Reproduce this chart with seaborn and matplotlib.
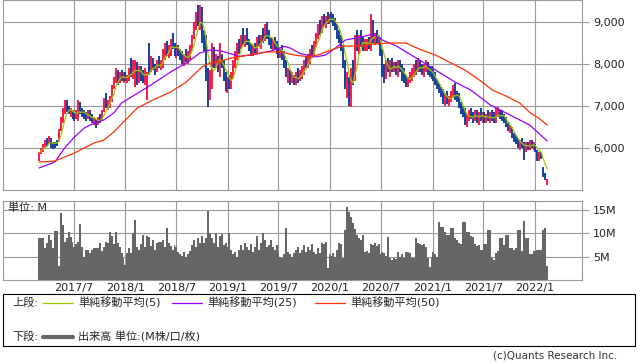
import pandas as pd
import matplotlib
matplotlib.use('Agg')
import matplotlib.pyplot as plt
import matplotlib.dates as mdates
from matplotlib.lines import Line2D
from matplotlib.patches import Rectangle
from matplotlib.ticker import FuncFormatter
import seaborn as sns

sns.set_style('white')
plt.rcParams['font.family'] = ['DejaVu Sans', 'Noto Sans CJK JP']

# weekly candles, first week and weekly values
first_week = '2017-02-27'

low = [5700, 5850, 5900, 6000, 6050, 6100, 6000, 5980, 6000, 6050,
       6150, 6400, 6600, 6800, 6850, 6800, 6750, 6700, 6650, 6700,
       6650, 6800, 6750, 6700, 6650, 6700, 6650, 6600, 6550, 6480,
       6550, 6600, 6650, 6850, 6950, 6900, 6950, 7100, 7400, 7550,
       7500, 7550, 7600, 7550, 7600, 7550, 7600, 7700, 7650, 7450,
       7500, 7550, 7600, 7550, 7500, 7150, 7750, 7800, 7850, 7750,
       7800, 7900, 7850, 7900, 8100, 8200, 8150, 8200, 8350, 8200,
       8150, 8200, 8100, 8000, 7950, 8050, 8000, 8100, 8300, 8600,
       8800, 8900, 8800, 8500, 8300, 7600, 6980, 7150, 7400, 7900,
       7900, 7800, 7700, 7900, 7600, 7350, 7300, 7400, 7400, 7650,
       7900, 8100, 8250, 8350, 8450, 8400, 8450, 8300, 8200, 8200,
       8250, 8250, 8400, 8350, 8500, 8550, 8600, 8450, 8350, 8300,
       8350, 8250, 8150, 8150, 8100, 7900, 7700, 7550, 7500, 7550,
       7500, 7500, 7550, 7600, 7650, 7750, 7900, 7900, 8000, 8150,
       8200, 8400, 8600, 8700, 8750, 8900, 8850, 8950, 8950, 9000,
       8900, 8800, 8600, 8500, 8300, 7900, 7400, 7200, 7000, 6980,
       7500, 7600, 8300, 8250, 8400, 8300, 8300, 8300, 8350, 8300,
       8500, 8450, 8500, 8450, 8200, 7700, 7550, 7650, 7800, 7700,
       7800, 7800, 7750, 7700, 7800, 7600, 7550, 7450, 7450, 7550,
       7600, 7700, 7750, 7800, 7800, 7750, 7700, 7800, 7750, 7700,
       7650, 7600, 7500, 7400, 7300, 7220, 7050, 7000, 7050, 7000,
       7100, 7200, 7150, 7100, 6950, 6800, 6750, 6550, 6500, 6650,
       6700, 6600, 6650, 6600, 6550, 6650, 6600, 6600, 6600, 6650,
       6600, 6650, 6600, 6600, 6750, 6700, 6650, 6600, 6500, 6400,
       6350, 6250, 6150, 6100, 6000, 5950, 6000, 5720, 5900, 5950,
       5950, 6000, 5950, 5900, 5700, 5700, 5750, 5300, 5250, 5120]

high = [5900, 6000, 6100, 6200, 6250, 6280, 6250, 6150, 6150, 6200,
        6450, 6750, 6950, 7150, 7150, 7000, 6950, 6900, 6850, 6900,
        7150, 7100, 6950, 6900, 6850, 6900, 6900, 6800, 6750, 6700,
        6750, 6800, 6900, 7200, 7300, 7150, 7250, 7500, 7700, 7900,
        7850, 7800, 7850, 7800, 7800, 7750, 7900, 8150, 8100, 8100,
        8050, 7950, 7950, 7850, 7900, 7800, 8500, 8200, 8150, 8000,
        8100, 8200, 8100, 8350, 8500, 8550, 8450, 8600, 8750, 8500,
        8450, 8450, 8350, 8300, 8250, 8350, 8300, 8450, 8700, 9000,
        9250, 9400, 9400, 9350, 8800, 8700, 7900, 7850, 8500, 8400,
        8250, 8200, 8500, 8250, 8100, 7800, 7700, 7750, 7800, 8100,
        8300, 8500, 8600, 8700, 8850, 8700, 8850, 8600, 8500, 8450,
        8500, 8650, 8700, 8700, 8850, 8950, 9000, 8800, 8650, 8600,
        8650, 8550, 8450, 8400, 8450, 8300, 8100, 7900, 7850, 7800,
        7750, 7800, 7900, 7850, 7950, 8100, 8200, 8250, 8350, 8450,
        8550, 8750, 8950, 9050, 9150, 9200, 9150, 9250, 9200, 9250,
        9200, 9100, 8950, 8800, 8700, 8450, 8100, 7800, 7700, 7900,
        8100, 8700, 8800, 8700, 8800, 8650, 8600, 8600, 8650, 9200,
        9050, 8750, 8800, 8700, 8650, 8350, 8000, 8100, 8150, 8100,
        8150, 8050, 8050, 8100, 8100, 8000, 7900, 7750, 7700, 7800,
        7900, 8000, 8100, 8150, 8100, 8000, 8000, 8100, 8050, 7950,
        7950, 7850, 7800, 7650, 7550, 7450, 7400, 7300, 7350, 7250,
        7350, 7500, 7550, 7350, 7300, 7100, 7000, 6950, 6800, 6900,
        6950, 6850, 6900, 6900, 6850, 6950, 6850, 6850, 6800, 6900,
        6850, 6900, 6850, 6950, 6980, 6900, 6900, 6800, 6750, 6600,
        6550, 6500, 6350, 6300, 6250, 6200, 6250, 6150, 6150, 6150,
        6200, 6200, 6150, 6100, 5950, 5900, 5900, 5550, 5400, 5260]

close = [5880, 5980, 6060, 6150, 6100, 6250, 6050, 6050, 6100, 6150,
         6420, 6700, 6900, 7050, 6900, 6850, 6900, 6750, 6800, 6850,
         7000, 6850, 6800, 6750, 6700, 6850, 6700, 6650, 6700, 6550,
         6700, 6650, 6850, 7150, 7000, 7050, 7200, 7450, 7650, 7800,
         7600, 7700, 7650, 7750, 7650, 7700, 7850, 7800, 8000, 7900,
         7650, 7900, 7700, 7600, 7850, 7700, 7950, 8100, 7900, 7850,
         8050, 7950, 8000, 8300, 8450, 8250, 8350, 8550, 8450, 8300,
         8400, 8250, 8150, 8100, 8200, 8100, 8250, 8400, 8650, 8900,
         9100, 9000, 9300, 8600, 8400, 7800, 7300, 7750, 8300, 8000,
         8150, 7900, 8250, 8000, 7700, 7500, 7600, 7500, 7750, 8050,
         8250, 8450, 8400, 8600, 8550, 8650, 8500, 8400, 8300, 8400,
         8300, 8600, 8500, 8650, 8600, 8900, 8700, 8500, 8450, 8550,
         8400, 8350, 8250, 8350, 8200, 8000, 7750, 7800, 7600, 7700,
         7550, 7750, 7650, 7800, 7900, 8050, 7950, 8200, 8300, 8250,
         8500, 8700, 8850, 8800, 9100, 8950, 9100, 9050, 9150, 9050,
         9000, 8850, 8700, 8600, 8400, 8000, 7500, 7700, 7100, 7800,
         7600, 8600, 8450, 8600, 8500, 8400, 8500, 8550, 8400, 9000,
         8600, 8700, 8550, 8600, 8300, 7800, 7700, 8000, 7850, 8050,
         7900, 7950, 7800, 8050, 7850, 7700, 7600, 7500, 7650, 7750,
         7850, 7900, 7850, 8050, 7900, 7850, 7950, 8000, 7800, 7750,
         7700, 7650, 7550, 7450, 7350, 7300, 7150, 7200, 7100, 7150,
         7300, 7400, 7250, 7200, 7050, 6850, 6800, 6600, 6750, 6850,
         6750, 6650, 6850, 6700, 6800, 6750, 6800, 6650, 6750, 6700,
         6800, 6700, 6650, 6900, 6850, 6750, 6700, 6650, 6550, 6450,
         6500, 6300, 6200, 6150, 6050, 6150, 6050, 5950, 6100, 6000,
         6150, 6050, 6100, 5950, 5750, 5850, 5800, 5350, 5300, 5200]

# u = 陽線 (red), d = 陰線 (blue)
direction = list("uuuududddd" "uuuudduddu" "udddduddud" "uduuduuuuu"
                 "dududuuduu" "dudduududd" "uduuuduudd" "uddduduuuu"
                 "ududddduud" "ududdduduu" "uudududddu"
                 "dudududddu" "dddudddudu" "duduuuduud" "uuudududud"
                 "dddddddudu" "dududduudu" "dududddudu" "dududddduu"
                 "uududduudd" "dddddddudu" "uudddddduu" "ddudududud"
                 "udduuddddd" "udddduddud" "ududdudddu")

# 出来高 (M)
volume = [9.0, 9.0, 9.0, 6.9, 8.0, 9.7, 8.6, 6.9, 10.5, 10.5,
          3.0, 14.4, 11.8, 8.2, 9.0, 10.3, 9.2, 8.2, 7.1, 7.6,
          8.2, 12.0, 7.1, 5.0, 6.5, 6.5, 5.8, 6.5, 6.9, 6.9,
          6.9, 8.0, 6.1, 7.1, 8.2, 8.0, 10.3, 9.5, 7.6, 10.3,
          8.0, 7.1, 5.8, 4.8, 3.3, 5.8, 6.9, 5.8, 10.1, 12.9,
          7.1, 6.5, 7.6, 9.7, 7.1, 9.5, 9.2, 7.3, 8.6, 6.5,
          8.0, 8.2, 8.2, 8.5, 7.0, 11.2, 8.0, 7.2, 6.5, 7.5,
          7.0, 6.0, 5.5, 5.2, 6.0, 5.0, 5.5, 6.2, 7.5, 8.5,
          7.0, 9.0, 8.0, 9.5, 8.0, 9.0, 14.8, 10.0, 9.0, 8.0,
          10.0, 7.0, 9.5, 9.8, 7.5, 8.0, 7.0, 10.1, 6.5, 5.5,
          6.0, 5.0, 6.5, 7.5, 6.5, 8.0, 7.0, 6.5, 7.8, 6.0,
          7.0, 9.5, 6.5, 8.0, 10.1, 8.5, 7.0, 7.5, 8.5, 7.0,
          6.5, 7.5, 6.0, 5.0, 4.8, 5.5, 11.2, 6.0, 5.5, 5.0,
          5.8, 6.5, 7.0, 5.8, 6.5, 7.5, 6.0, 7.0, 6.5, 7.8,
          6.0, 5.5, 6.8, 5.8, 8.0, 7.6, 8.2, 2.5, 5.5, 5.2,
          5.8, 5.0, 6.5, 8.0, 7.8, 4.6, 10.7, 15.6, 14.5, 13.5,
          12.2, 11.0, 9.7, 9.0, 8.5, 9.7, 6.0, 6.2, 5.8, 7.8,
          7.5, 8.0, 7.2, 7.6, 5.5, 6.0, 5.8, 5.2, 9.1, 4.8,
          4.3, 4.6, 4.5, 6.0, 5.0, 5.5, 4.8, 6.0, 6.0, 5.8,
          4.6, 4.8, 9.0, 8.0, 7.8, 7.4, 7.6, 7.0, 4.8, 2.8,
          4.8, 6.0, 5.5, 5.0, 12.4, 11.4, 11.4, 10.3, 9.7, 9.7,
          11.2, 11.2, 9.0, 8.6, 8.0, 7.6, 12.4, 12.4, 10.3, 10.3,
          9.5, 9.2, 7.6, 7.2, 7.4, 6.5, 6.5, 7.6, 7.6, 10.7,
          10.7, 4.6, 4.3, 5.8, 6.2, 9.0, 9.0, 7.5, 9.7, 9.7,
          6.8, 6.8, 6.5, 6.8, 10.7, 10.7, 6.2, 12.6, 9.0, 9.0,
          5.5, 5.5, 6.2, 6.2, 6.5, 6.5, 6.5, 10.7, 11.2, 2.9]

# 25 and 50 week moving averages, read at some weeks
ma25_week = [0, 8, 13, 18, 23, 28, 33, 38, 42, 57, 67, 75, 82, 87, 93, 102,
             110, 118, 125, 128, 133, 141, 146, 151, 156, 164, 170, 175,
             182, 187, 193, 202, 212, 220, 230, 240, 250, 259]
ma25_val = [5524, 5667, 6000, 6262, 6476, 6595, 6667, 6833, 7071, 7500,
            7810, 8024, 8262, 8333, 8310, 8180, 8230, 8310, 8420, 8380,
            8250, 8167, 8214, 8380, 8570, 8640, 8710, 8570, 8430, 8290,
            8120, 7857, 7570, 7380, 7024, 6786, 6548, 6167]
ma50_week = [0, 8, 13, 18, 23, 28, 33, 38, 43, 50, 58, 67, 75, 83, 87, 92,
             98, 107, 116, 123, 130, 137, 142, 148, 155, 164, 170, 179,
             187, 194, 202, 212, 217, 225, 231, 239, 245, 250, 255, 259]
ma50_val = [5667, 5690, 5786, 5880, 6000, 6119, 6190, 6380, 6619, 6950,
            7143, 7333, 7571, 7930, 8024, 8060, 8143, 8214, 8286, 8290,
            8214, 8174, 8214, 8320, 8429, 8429, 8476, 8500, 8500, 8350,
            8214, 7976, 7857, 7600, 7381, 7214, 7071, 6850, 6700, 6548]

price_ticks = [6000, 7000, 8000, 9000]
volume_ticks = [5, 10, 15]
date_ticks = ['2017-07-01', '2018-01-01', '2018-07-01', '2019-01-01',
              '2019-07-01', '2020-01-01', '2020-07-01', '2021-01-01',
              '2021-07-01', '2022-01-01']

RED = '#ff1040'
BLUE = '#0a3a9a'
GRID = '#999999'

dates = pd.date_range(first_week, periods=len(close), freq='7D')
df = pd.DataFrame({'date': dates, 'low': low, 'high': high, 'close': close,
                   'dir': direction, 'volume': volume})
df['ma5'] = df['close'].rolling(5, min_periods=1).mean()
ma25 = pd.DataFrame({'date': dates[ma25_week], 'ma': ma25_val})
ma50 = pd.DataFrame({'date': dates[ma50_week], 'ma': ma50_val})

W, H = 638, 362
fig = plt.figure(figsize=(W / 100, H / 100), dpi=100)


def box(l, t, r, b):
    return [l / W, 1 - b / H, (r - l) / W, (b - t) / H]


ax = fig.add_axes(box(3, 0, 582, 190))
axv = fig.add_axes(box(3, 201, 582, 280))
xlim = (pd.Timestamp('2016-10-21'), pd.Timestamp('2022-06-18'))

# price panel
up = df[df['dir'] == 'u']
dn = df[df['dir'] == 'd']
ax.vlines(up['date'], up['low'], up['high'], color=RED, lw=1.35, zorder=3)
ax.vlines(dn['date'], dn['low'], dn['high'], color=BLUE, lw=1.35, zorder=3)
sns.lineplot(data=df, x='date', y='ma5', ax=ax, color='#99cc00', lw=0.9,
             zorder=4)
sns.lineplot(data=ma25, x='date', y='ma', ax=ax, color='#9900ff', lw=0.9,
             zorder=4)
sns.lineplot(data=ma50, x='date', y='ma', ax=ax, color='#ff3300', lw=0.9,
             zorder=4)
ax.set_ylim(5000, 9524)

# volume panel
axv.bar(df['date'], df['volume'], width=7, color='#666666', lw=0,
        zorder=3)
axv.set_ylim(0, 16.9)

for a in (ax, axv):
    a.set_xlim(*xlim)
    a.set_xlabel('')
    a.set_ylabel('')
    a.set_xticks(pd.to_datetime(date_ticks))
    a.grid(True, color=GRID, lw=0.8)
    a.set_axisbelow(True)
    a.yaxis.tick_right()
    a.tick_params(axis='y', length=5, color=GRID, width=0.8, labelsize=8,
                  pad=3, labelcolor='#222222')
    a.tick_params(axis='x', length=0)
    for s in a.spines.values():
        s.set_color(GRID)
        s.set_linewidth(0.8)

ax.set_yticks(price_ticks)
ax.yaxis.set_major_formatter(FuncFormatter(lambda v, p: f'{v:,.0f}'))
ax.tick_params(axis='x', labelbottom=False)
axv.set_yticks(volume_ticks)
axv.yaxis.set_major_formatter(FuncFormatter(lambda v, p: f'{v:.0f}M'))
axv.xaxis.set_major_formatter(
    FuncFormatter(lambda v, p: f'{mdates.num2date(v).year}/'
                               f'{mdates.num2date(v).month}'))
axv.tick_params(axis='x', labelsize=8, pad=2, labelcolor='#222222')

fig.text(8 / W, 1 - 208 / H, '単位: M', fontsize=8, va='center')

# legend box
fig.add_artist(Rectangle((3 / W, 1 - 346 / H), 632 / W, 52 / H,
                         transform=fig.transFigure, fill=False,
                         ec='black', lw=0.8))
y1, y2 = 1 - 303 / H, 1 - 337 / H
fig.text(12 / W, y1, '上段:', fontsize=8, va='center')
for x0, col, lab in [(43, '#99cc00', '単純移動平均(5)'),
                     (172, '#9900ff', '単純移動平均(25)'),
                     (315, '#ff3300', '単純移動平均(50)')]:
    fig.add_artist(Line2D([x0 / W, (x0 + 30) / W], [y1, y1],
                          transform=fig.transFigure, color=col, lw=0.9))
    fig.text((x0 + 35) / W, y1, lab, fontsize=8, va='center')
fig.text(12 / W, y2, '下段:', fontsize=8, va='center')
fig.add_artist(Line2D([43 / W, 73 / W], [y2, y2],
                      transform=fig.transFigure, color='#666666', lw=3))
fig.text(78 / W, y2, '出来高 単位:(M株/口/枚)', fontsize=8, va='center')

fig.text(617 / W, 1 - 356 / H, '(c)Quants Research Inc.', fontsize=7.5,
         ha='right', va='center', color='#333333')

fig.savefig('out.png', dpi=100)
